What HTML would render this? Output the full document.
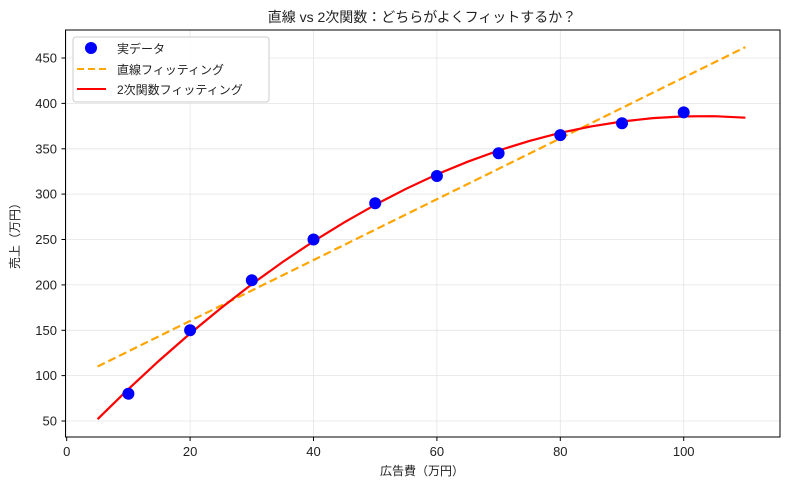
<!DOCTYPE html><html><head><meta charset="utf-8"><style>body{margin:0;background:#fff}svg text{font-family:"Liberation Sans","Noto Sans CJK JP",sans-serif;fill:#222}</style></head><body>
<svg width="789" height="489" xmlns="http://www.w3.org/2000/svg">
<rect width="789" height="489" fill="#fff"/>
<g stroke="#e4e4e4" stroke-width="0.8">
<line x1="66.7" y1="30" x2="66.7" y2="437"/><line x1="190.1" y1="30" x2="190.1" y2="437"/><line x1="313.5" y1="30" x2="313.5" y2="437"/><line x1="436.9" y1="30" x2="436.9" y2="437"/><line x1="560.3" y1="30" x2="560.3" y2="437"/><line x1="683.7" y1="30" x2="683.7" y2="437"/>
<line x1="65.5" y1="421" x2="780" y2="421"/><line x1="65.5" y1="375.6" x2="780" y2="375.6"/><line x1="65.5" y1="330.3" x2="780" y2="330.3"/><line x1="65.5" y1="284.9" x2="780" y2="284.9"/><line x1="65.5" y1="239.5" x2="780" y2="239.5"/><line x1="65.5" y1="194.1" x2="780" y2="194.1"/><line x1="65.5" y1="148.8" x2="780" y2="148.8"/><line x1="65.5" y1="103.4" x2="780" y2="103.4"/><line x1="65.5" y1="58" x2="780" y2="58"/>
</g>
<text x="422" y="22" font-size="14" text-anchor="middle">直線 vs 2次関数：どちらがよくフィットするか？</text>
<path d="M97.55,366.55 L745.4,47.1" stroke="orange" stroke-width="2.2" stroke-dasharray="8,4" fill="none"/>
<path d="M97.55,419.2 L128.4,389.1 L159.25,360.5 L190.1,333.5 L220.95,308.1 L251.8,284.2 L282.65,262 L313.5,241.3 L344.35,222.3 L375.2,204.8 L406.05,188.8 L436.9,174.4 L467.75,161.7 L498.6,150.5 L529.45,140.9 L560.3,132.8 L591.15,126.4 L622,121.5 L652.85,118.1 L683.7,116.4 L714.55,116.2 L745.4,117.7" stroke="red" stroke-width="2.2" fill="none"/>
<g fill="#0000ff">
<circle cx="128.4" cy="393.8" r="6"/><circle cx="190.1" cy="330.3" r="6"/><circle cx="251.8" cy="280.3" r="6"/><circle cx="313.5" cy="239.5" r="6"/><circle cx="375.2" cy="203.2" r="6"/><circle cx="436.9" cy="176" r="6"/><circle cx="498.6" cy="153.3" r="6"/><circle cx="560.3" cy="135.1" r="6"/><circle cx="622" cy="123.3" r="6"/><circle cx="683.7" cy="112.4" r="6"/>
</g>
<rect x="65.5" y="30" width="714.5" height="407" fill="none" stroke="#000" stroke-width="1"/>
<g stroke="#000">
<line x1="66.7" y1="437" x2="66.7" y2="441"/><line x1="190.1" y1="437" x2="190.1" y2="441"/><line x1="313.5" y1="437" x2="313.5" y2="441"/><line x1="436.9" y1="437" x2="436.9" y2="441"/><line x1="560.3" y1="437" x2="560.3" y2="441"/><line x1="683.7" y1="437" x2="683.7" y2="441"/>
<line x1="61.5" y1="421" x2="65.5" y2="421"/><line x1="61.5" y1="375.6" x2="65.5" y2="375.6"/><line x1="61.5" y1="330.3" x2="65.5" y2="330.3"/><line x1="61.5" y1="284.9" x2="65.5" y2="284.9"/><line x1="61.5" y1="239.5" x2="65.5" y2="239.5"/><line x1="61.5" y1="194.1" x2="65.5" y2="194.1"/><line x1="61.5" y1="148.8" x2="65.5" y2="148.8"/><line x1="61.5" y1="103.4" x2="65.5" y2="103.4"/><line x1="61.5" y1="58" x2="65.5" y2="58"/>
</g>
<g font-size="13" text-anchor="middle">
<text x="66.7" y="456">0</text><text x="190.1" y="456">20</text><text x="313.5" y="456">40</text><text x="436.9" y="456">60</text><text x="560.3" y="456">80</text><text x="683.7" y="456">100</text>
</g>
<g font-size="13" text-anchor="end">
<text x="57" y="425.5">50</text><text x="57" y="380.1">100</text><text x="57" y="334.8">150</text><text x="57" y="289.4">200</text><text x="57" y="244">250</text><text x="57" y="198.6">300</text><text x="57" y="153.3">350</text><text x="57" y="107.9">400</text><text x="57" y="62.5">450</text>
</g>
<text x="422" y="475" font-size="12" text-anchor="middle">広告費（万円）</text>
<text transform="translate(19,233) rotate(-90)" font-size="12" text-anchor="middle">売上（万円）</text>
<rect x="73" y="37" width="196" height="65" rx="3" fill="#fff" fill-opacity="0.85" stroke="#ccc"/>
<circle cx="91" cy="48" r="6" fill="#0000ff"/>
<text x="117" y="53" font-size="12">実データ</text>
<line x1="77" y1="69" x2="106" y2="69" stroke="orange" stroke-width="2" stroke-dasharray="7,4"/>
<text x="117" y="74" font-size="12">直線フィッティング</text>
<line x1="77" y1="89" x2="106" y2="89" stroke="red" stroke-width="2"/>
<text x="117" y="94" font-size="12">2次関数フィッティング</text>
</svg></body></html>
